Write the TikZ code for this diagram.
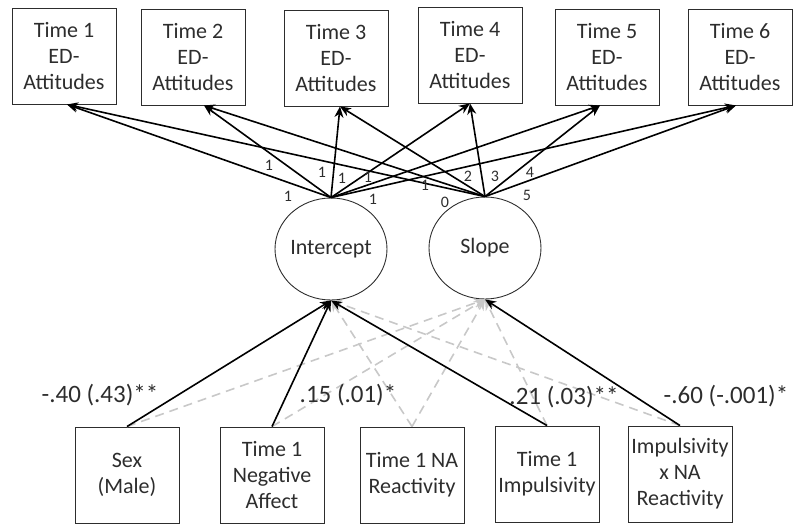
\documentclass[tikz,border=0pt]{standalone}
\usepackage{fontspec}
\setmainfont{Carlito}
\usepackage{tikz}
\usetikzlibrary{arrows.meta,shapes.geometric}
\definecolor{nsgray}{RGB}{200,200,200}
\definecolor{inkgray}{RGB}{45,45,45}
\tikzset{
  timebox/.style={
    rectangle,
    draw=inkgray,
    line width=0.9pt,
    align=center,
    minimum width=104pt,
    minimum height=96pt,
    inner sep=2pt,
    text=inkgray,
    font=\fontsize{22}{26}\selectfont
  },
  latent/.style={
    ellipse,
    draw=inkgray,
    line width=0.9pt,
    minimum width=112pt,
    minimum height=102pt,
    inner xsep=-3pt,
    inner ysep=0pt,
    text=inkgray,
    font=\fontsize{22}{26}\selectfont
  },
  loadarrow/.style={
    -{Stealth[length=11pt,width=9pt]},
    line width=1.6pt,
    draw=black
  },
  nsarrow/.style={
    -{Stealth[length=11pt,width=9pt]},
    line width=1.6pt,
    draw=nsgray,
    dash pattern=on 9pt off 6pt
  },
  loading/.style={inner sep=0pt, text=inkgray, font=\fontsize{16}{16}\selectfont},
  coef/.style={inner sep=0pt, text=inkgray, font=\fontsize{25}{25}\selectfont}
}

\begin{document}
\begin{tikzpicture}[x=1pt,y=-1pt]
\useasboundingbox (0,0) rectangle (793,525);

% outcome boxes
\node[timebox] (t1) at (64,56) {Time 1\\ED-\\Attitudes};
\node[timebox] (t2) at (193,57) {Time 2\\ED-\\Attitudes};
\node[timebox] (t3) at (336,58) {Time 3\\ED-\\Attitudes};
\node[timebox] (t4) at (470,55) {Time 4\\ED-\\Attitudes};
\node[timebox] (t5) at (607,57) {Time 5\\ED-\\Attitudes};
\node[timebox] (t6) at (740,57) {Time 6\\ED-\\Attitudes};

% growth factors
\node[latent] (int) at (331,249) {Intercept};
\node[latent] (slope) at (485,248) {Slope};

% predictors
\node[timebox] (sex) at (127,475) {Sex\\(Male)};
\node[timebox] (negaff) at (272,475) {Time 1\\Negative\\Affect};
\node[timebox] (nareact) at (412,475) {Time 1 NA\\Reactivity};
\node[timebox] (impuls) at (547,474) {Time 1\\Impulsivity};
\node[timebox] (impxna) at (680,474) {Impulsivity\\x NA\\Reactivity};

% loadings
\foreach \t/\dx in {t1/3,t2/11,t3/4,t4/0,t5/-7,t6/-4}{
  \draw[loadarrow] (int.north) -- ([xshift=\dx]\t.south);
  \draw[loadarrow] (slope.north) -- ([xshift=\dx]\t.south);
}
\node[loading] (li1) at (288,196) {1};
\node[loading] (li2) at (269,165) {1};
\node[loading] (li3) at (322,172) {1};
\node[loading] (li4) at (342,178) {1};
\node[loading] (li5) at (368,177) {1};
\node[loading] (li6) at (373,199) {1};
\node[loading] (ls1) at (445,202) {0};
\node[loading] (ls2) at (425,185) {1};
\node[loading] (ls3) at (468,176) {2};
\node[loading] (ls4) at (495,176) {3};
\node[loading] (ls5) at (530,172) {4};
\node[loading] (ls6) at (527,195) {5};

% non-significant paths
\draw[nsarrow] (sex.north) -- (slope.south);
\draw[nsarrow] (negaff.north) -- (slope.south);
\draw[nsarrow] (nareact.north) -- (int.south);
\draw[nsarrow] (nareact.north) -- (slope.south);
\draw[nsarrow] (impuls.north) -- (slope.south);
\draw[nsarrow] (impxna.north) -- (int.south);

% significant paths
\draw[loadarrow] (sex.north) -- (int.south);
\draw[loadarrow] (negaff.north) -- (int.south);
\draw[loadarrow] (impuls.north) -- (int.south);
\draw[loadarrow] (impxna.north) -- (slope.south);

\node[coef] (bsex) at (100,395) {-.40 (.43)**};
\node[coef] (bneg) at (348,395) {.15 (.01)*};
\node[coef] (bimp) at (564,397) {.21 (.03)**};
\node[coef] (bint) at (726,396) {-.60 (-.001)*};
\end{tikzpicture}
\end{document}
